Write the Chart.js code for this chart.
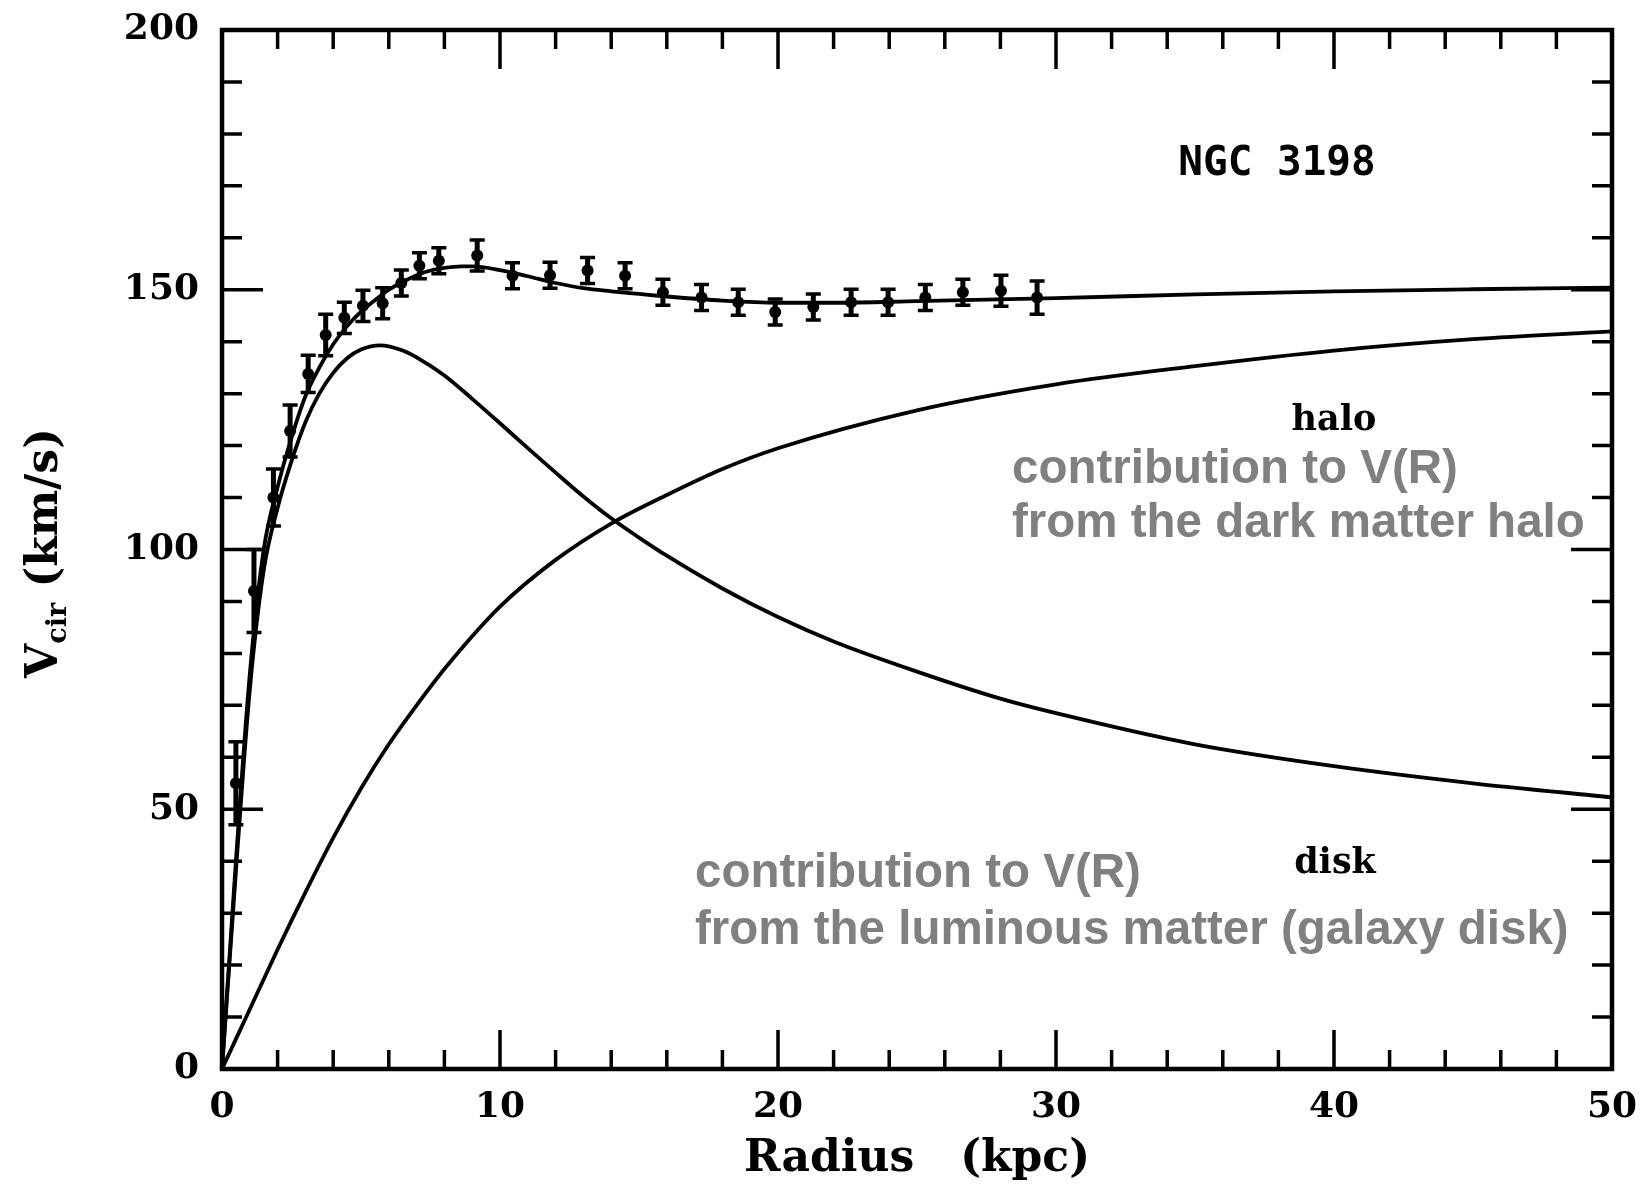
<!DOCTYPE html>
<html>
<head>
<meta charset="utf-8">
<title>NGC 3198 rotation curve</title>
<script src="https://cdn.jsdelivr.net/npm/chart.js@4.4.1/dist/chart.umd.min.js"></script>
<style>
  html, body { margin: 0; padding: 0; background: #ffffff; }
  canvas { display: block; }
</style>
</head>
<body>
<canvas id="rc" width="1644" height="1186"></canvas>
<script>
// Observed circular velocities of NGC 3198 (kpc, km/s) with 1-sigma errors
const obsRadius = [0.5, 1.15, 1.85, 2.45, 3.1, 3.73, 4.4, 5.07, 5.78, 6.45, 7.1, 7.8, 9.18,
                   10.45, 11.8, 13.15, 14.5, 15.86, 17.25, 18.57, 19.9, 21.27, 22.63, 23.96,
                   25.3, 26.65, 28.02, 29.32];
const obsVel = [55, 92, 110, 122.8, 133.8, 141.3, 144.6, 146.9, 147.4, 151.3, 154.6, 155.6, 156.6,
                152.7, 152.8, 153.7, 152.7, 149.5, 148.5, 147.6, 145.7, 146.7, 147.6, 147.6,
                148.5, 149.5, 149.8, 148.5];
const obsErr = [8, 8, 5.5, 5, 3.6, 4, 3, 3, 3, 2.5, 2.5, 2.5, 3,
                2.5, 2.5, 2.5, 2.5, 2.5, 2.5, 2.5, 2.5, 2.5, 2.5, 2.5,
                2.5, 2.5, 3, 3.2];

// Best-fit total rotation curve
const fitRadius = [0, 0.5, 1, 1.5, 2, 2.5, 3, 3.5, 4, 4.5, 5, 5.5, 6, 6.5, 7, 7.5, 8, 8.6, 9, 10,
                   11, 12, 13, 14, 15, 16, 18, 20, 22, 25, 30, 35, 40, 45, 50];
const fitVel = [0, 40, 76, 100, 112, 121.5, 129.5, 135, 139.5, 143, 145.8, 148, 150, 151.5, 152.8,
                153.7, 154.2, 154.5, 154.5, 153.8, 152.6, 151.3, 150.3, 149.7, 149.2, 148.7,
                147.9, 147.5, 147.5, 147.8, 148.4, 149.1, 149.7, 150.1, 150.4];

// Contribution of the luminous disk
const diskRadius = [0, 0.5, 1, 1.5, 2, 2.5, 3, 3.5, 4, 4.5, 5, 5.7, 6.5, 7, 8, 9, 10, 11, 12, 13,
                    14, 15, 16, 18, 20, 22, 25, 28, 30, 35, 40, 45, 50];
const diskVel = [0, 38, 73, 96, 108, 117, 124.5, 130, 134, 136.8, 138.5, 139.3, 138.3, 137, 133.5,
                 129, 124.3, 119.5, 114.8, 110.2, 106, 102.3, 98.8, 92.5, 87, 82.3, 76.5, 71.3,
                 68.5, 62.5, 58.3, 55, 52.3];

// Contribution of the dark matter halo
const haloRadius = [0, 1, 2, 3, 4, 5, 6, 7, 8, 10, 12, 14, 16, 18, 20, 25, 30, 35, 40, 45, 50];
const haloVel = [0, 11.5, 23, 34, 44.5, 54, 62.5, 70, 77, 89, 98, 105, 110.5, 115.5, 119.5, 126.8,
                 131.8, 135.3, 138.3, 140.5, 142];

// Labelled axis ticks
const xTicks = [0, 10, 20, 30, 40, 50];
const yTicks = [0, 50, 100, 150, 200];

const pts = (xs, ys) => xs.map((v, i) => ({ x: v, y: ys[i] }));

const serifBold = (size) => `bold ${size}px "DejaVu Serif", "Liberation Serif", serif`;

// Boxed frame with inward ticks on all four sides
const framePlugin = {
  id: 'frame',
  beforeDatasetsDraw(chart) {
    const { ctx, chartArea: a, scales: { x, y } } = chart;
    ctx.save();
    ctx.strokeStyle = '#000';
    ctx.lineWidth = 4.5;
    ctx.strokeRect(a.left, a.top, a.right - a.left, a.bottom - a.top);
    ctx.lineWidth = 3.5;
    ctx.beginPath();
    for (let v = 0; v <= 50; v += 2) {
      const px = x.getPixelForValue(v);
      const len = v % 10 === 0 ? 39 : 19;
      ctx.moveTo(px, a.bottom); ctx.lineTo(px, a.bottom - len);
      ctx.moveTo(px, a.top); ctx.lineTo(px, a.top + len);
    }
    for (let v = 0; v <= 200; v += 10) {
      const py = y.getPixelForValue(v);
      const len = v % 50 === 0 ? 41 : 20;
      ctx.moveTo(a.left, py); ctx.lineTo(a.left + len, py);
      ctx.moveTo(a.right, py); ctx.lineTo(a.right - len, py);
    }
    ctx.stroke();
    ctx.restore();
  }
};

// Vertical error bars with caps for the observed points
const errorBarPlugin = {
  id: 'errorBars',
  afterDatasetsDraw(chart) {
    const { ctx, scales: { x, y } } = chart;
    ctx.save();
    ctx.strokeStyle = '#000';
    ctx.beginPath();
    ctx.lineWidth = 5;
    obsRadius.forEach((r, i) => {
      const px = x.getPixelForValue(r);
      ctx.moveTo(px, y.getPixelForValue(obsVel[i] + obsErr[i]));
      ctx.lineTo(px, y.getPixelForValue(obsVel[i] - obsErr[i]));
    });
    ctx.stroke();
    ctx.beginPath();
    ctx.lineWidth = 3.5;
    obsRadius.forEach((r, i) => {
      const px = x.getPixelForValue(r);
      const top = y.getPixelForValue(obsVel[i] + obsErr[i]);
      const bot = y.getPixelForValue(obsVel[i] - obsErr[i]);
      ctx.moveTo(px - 7.5, top); ctx.lineTo(px + 7.5, top);
      ctx.moveTo(px - 7.5, bot); ctx.lineTo(px + 7.5, bot);
    });
    ctx.stroke();
    ctx.restore();
  }
};

// Labels inside the plot and the rotated y-axis title
const labelPlugin = {
  id: 'labels',
  afterDraw(chart) {
    const { ctx } = chart;
    ctx.save();
    ctx.fillStyle = '#000';
    ctx.textBaseline = 'alphabetic';

    ctx.textAlign = 'center';
    ctx.font = 'bold 41px "DejaVu Sans Mono", "Liberation Mono", monospace';
    ctx.fillText('NGC 3198', 1277, 175);

    ctx.font = serifBold(35);
    ctx.fillText('halo', 1334, 430);
    ctx.fillText('disk', 1335, 873);

    ctx.textAlign = 'left';
    ctx.fillStyle = '#808080';
    ctx.font = 'bold 47.5px "Liberation Sans", Arial, sans-serif';
    ctx.fillText('contribution to V(R)', 1012, 483);
    ctx.fillText('from the dark matter halo', 1012, 537);
    ctx.fillText('contribution to V(R)', 695, 887);
    ctx.fillText('from the luminous matter (galaxy disk)', 695, 944);

    // V_cir (km/s), rotated
    ctx.fillStyle = '#000';
    ctx.translate(57, 553);
    ctx.rotate(-Math.PI / 2);
    const big = serifBold(44);
    const small = serifBold(27);
    const parts = [['V', big, 0], ['cir', small, 9], [' (km/s)', big, 0]];
    let total = 0;
    parts.forEach(([t, f]) => { ctx.font = f; total += ctx.measureText(t).width; });
    let cx = -total / 2;
    parts.forEach(([t, f, dy]) => {
      ctx.font = f;
      ctx.fillText(t, cx, dy);
      cx += ctx.measureText(t).width;
    });
    ctx.restore();
  }
};

const curveStyle = {
  borderColor: '#000',
  borderWidth: 3.8,
  pointRadius: 0,
  fill: false,
  cubicInterpolationMode: 'monotone'
};

new Chart(document.getElementById('rc'), {
  type: 'line',
  data: {
    datasets: [
      { label: 'total', data: pts(fitRadius, fitVel), ...curveStyle },
      { label: 'disk', data: pts(diskRadius, diskVel), ...curveStyle },
      { label: 'halo', data: pts(haloRadius, haloVel), ...curveStyle },
      {
        label: 'observed',
        type: 'scatter',
        data: pts(obsRadius, obsVel),
        pointRadius: 6,
        pointBackgroundColor: '#000',
        pointBorderWidth: 0,
        showLine: false
      }
    ]
  },
  options: {
    responsive: false,
    animation: false,
    layout: { padding: { left: 0, right: 32, top: 30, bottom: 0 } },
    plugins: { legend: { display: false }, tooltip: { enabled: false } },
    scales: {
      x: {
        type: 'linear',
        min: 0,
        max: 50,
        grid: { display: false, drawTicks: false },
        border: { display: false },
        afterBuildTicks: (s) => { s.ticks = xTicks.map(v => ({ value: v })); },
        afterFit: (s) => { s.height = 117; s.paddingLeft = 0; s.paddingRight = 0; },
        ticks: {
          font: { family: '"DejaVu Serif", serif', weight: 'bold', size: 36 },
          color: '#000',
          padding: 17,
          maxRotation: 0,
          autoSkip: false
        },
        title: {
          display: true,
          text: 'Radius   (kpc)',
          font: { family: '"DejaVu Serif", serif', weight: 'bold', size: 44 },
          color: '#000',
          padding: { top: 0, bottom: 0 }
        }
      },
      y: {
        type: 'linear',
        min: 0,
        max: 200,
        grid: { display: false, drawTicks: false },
        border: { display: false },
        afterBuildTicks: (s) => { s.ticks = yTicks.map(v => ({ value: v })); },
        afterFit: (s) => { s.width = 222; s.paddingTop = 0; s.paddingBottom = 0; },
        ticks: {
          font: { family: '"DejaVu Serif", serif', weight: 'bold', size: 36 },
          color: '#000',
          padding: 23
        }
      }
    }
  },
  plugins: [framePlugin, errorBarPlugin, labelPlugin]
});
</script>
</body>
</html>
